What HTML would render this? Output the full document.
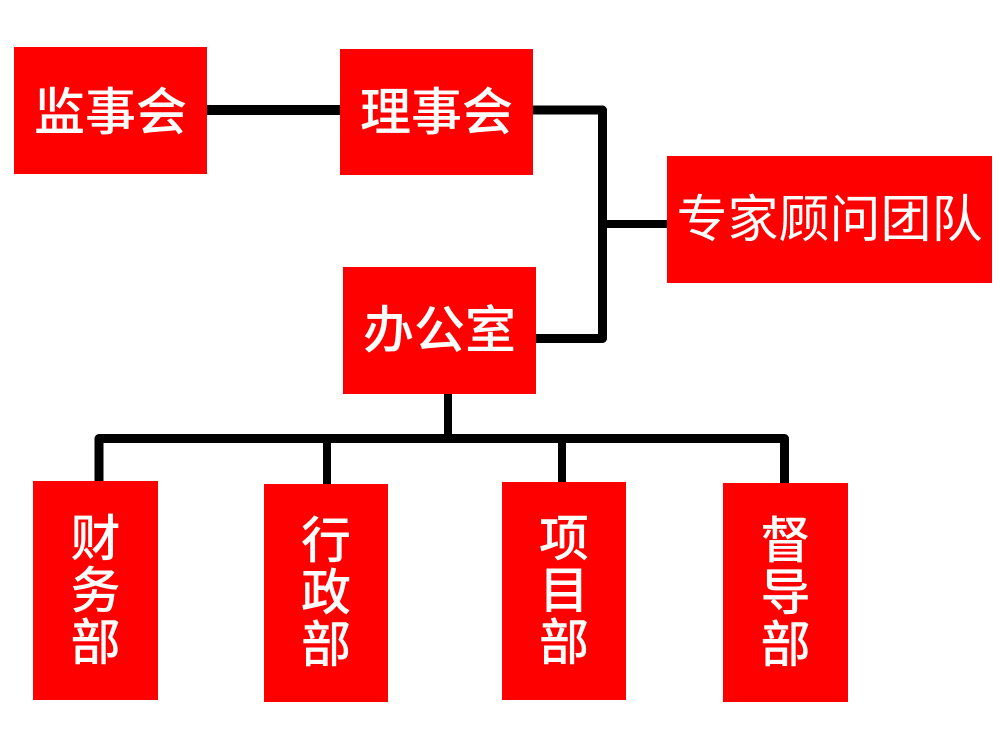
<!DOCTYPE html>
<html>
<head>
<meta charset="utf-8">
<style>
  html, body { margin: 0; padding: 0; background: #ffffff; }
  body { width: 1000px; height: 749px; position: relative; overflow: hidden; }
  .box {
    position: absolute;
    background: #ff0000;
    color: #ffffff;
    display: flex;
    align-items: center;
    justify-content: center;
    font-family: "Liberation Sans", "Noto Sans CJK SC", "WenQuanYi Zen Hei", sans-serif;
    white-space: nowrap;
  }
  .h { font-size: 51px; line-height: 1; font-weight: 500; }
  .wide { font-size: 51px; line-height: 1; font-weight: normal; }
  .v { flex-direction: column; font-size: 50px; line-height: 52px; font-weight: 500; }
  .v span { display: block; }
  svg { position: absolute; left: 0; top: 0; }
</style>
</head>
<body>
<svg width="1000" height="749" viewBox="0 0 1000 749">
  <g fill="none" stroke="#000" stroke-linejoin="round">
    <path d="M206 110 H341" stroke-width="10"/>
    <path d="M532 110 H602.5 V338.5 H535" stroke-width="9"/>
    <path d="M602 224 H668" stroke-width="8"/>
    <path d="M448 393 V438" stroke-width="8"/>
    <path d="M99 482 V438.5 H784.5 V484" stroke-width="9"/>
    <path d="M327 438 V485" stroke-width="8"/>
    <path d="M562 438 V483" stroke-width="8"/>
  </g>
</svg>

<div class="box h" style="left:14px;top:47px;width:193px;height:127px;padding-top:4px;box-sizing:border-box;">监事会</div>
<div class="box h" style="left:340px;top:49px;width:193px;height:126px;">理事会</div>
<div class="box wide" style="left:667px;top:156px;width:325px;height:127px;">专家顾问团队</div>
<div class="box h" style="left:343px;top:267px;width:193px;height:127px;">办公室</div>

<div class="box v" style="left:33px;top:481px;width:125px;height:219px;"><span>财</span><span>务</span><span>部</span></div>
<div class="box v" style="left:264px;top:484px;width:124px;height:218px;"><span>行</span><span>政</span><span>部</span></div>
<div class="box v" style="left:502px;top:482px;width:124px;height:218px;"><span>项</span><span>目</span><span>部</span></div>
<div class="box v" style="left:723px;top:483px;width:125px;height:219px;"><span>督</span><span>导</span><span>部</span></div>
</body>
</html>
